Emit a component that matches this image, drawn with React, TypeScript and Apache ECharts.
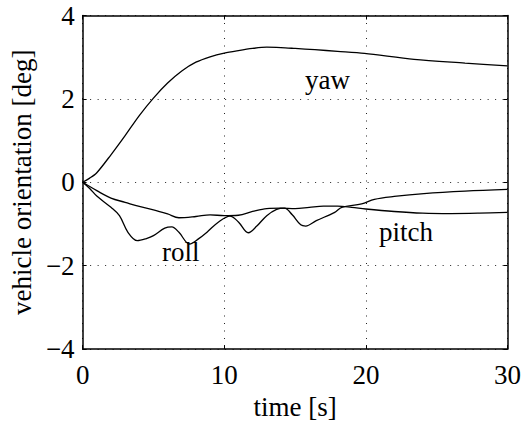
import React, { useEffect, useRef } from "react";
import * as echarts from "echarts";

const yawT = [0, 0.5, 1, 2, 3, 4, 5, 6, 7, 8, 9, 10, 11, 12, 13, 14, 15, 16.4, 18, 19.9, 23.4, 27, 30];
const yawV = [0, 0.1, 0.23, 0.66, 1.12, 1.6, 2.02, 2.38, 2.67, 2.88, 3.01, 3.1, 3.16, 3.21, 3.24, 3.23, 3.21, 3.18, 3.14, 3.09, 2.95, 2.86, 2.79];

const rollT = [0, 0.5, 1, 2, 2.6, 3.2, 3.86, 4.5, 5, 5.8, 6.3, 6.8, 7.55, 8.2, 8.8, 9.6, 10.4, 11, 11.7, 12.3, 13, 13.7, 14.25, 14.8, 15.4, 15.75, 16.5, 17.8, 18.3, 19.7, 20.6, 22, 24.1, 27, 30];
const rollV = [0, -0.15, -0.33, -0.6, -0.8, -1.2, -1.4, -1.35, -1.28, -1.1, -1.07, -1.2, -1.48, -1.35, -1.19, -0.95, -0.81, -0.95, -1.21, -1.05, -0.8, -0.65, -0.62, -0.78, -1.02, -1.05, -0.92, -0.72, -0.6, -0.52, -0.41, -0.34, -0.27, -0.21, -0.17];

const pitchT = [0, 1, 2, 3, 4, 5, 6, 6.8, 8, 9, 10, 11, 12, 13, 14, 15, 16, 17, 18, 19, 20, 22, 24, 26, 28, 30];
const pitchV = [0, -0.2, -0.38, -0.48, -0.58, -0.66, -0.76, -0.85, -0.82, -0.78, -0.8, -0.79, -0.7, -0.63, -0.62, -0.63, -0.6, -0.57, -0.57, -0.6, -0.64, -0.7, -0.74, -0.75, -0.74, -0.72];

const xTicks = [0, 10, 20, 30];
const yTicks = [-4, -2, 0, 2, 4];

const FONT = '"Liberation Serif", "Times New Roman", serif';
const FS = 27;

function pairs(t: number[], v: number[]) {
  return t.map((x, i) => [x, v[i]]);
}

export default function App() {
  const ref = useRef<HTMLDivElement>(null);
  useEffect(() => {
    document.body.style.margin = "0";
    const chart = echarts.init(ref.current!, null, { renderer: "svg" });
    const fmt = (v: number) => (v < 0 ? "\u2212" + Math.abs(v) : String(v));
    const lineS = { color: "#000", width: 1.3 };
    const base = {
      type: "line" as const,
      showSymbol: false,
      smooth: 0.35,
      lineStyle: lineS,
      animation: false,
    };
    const boxLine = { onZero: false, lineStyle: { color: "#000", width: 1.5 } };
    const tick = { inside: true, length: 4, lineStyle: { color: "#000" } };
    const grid = { show: true, lineStyle: { color: "#222", type: [1, 6.5], width: 1 } };
    chart.setOption({
      animation: false,
      grid: { left: 76, right: 15, top: 15.5, bottom: 68.5 },
      xAxis: [
        {
          type: "value",
          min: xTicks[0],
          max: xTicks[xTicks.length - 1],
          interval: 10,
          name: "time [s]",
          nameLocation: "middle",
          nameGap: 40,
          nameTextStyle: { fontFamily: FONT, fontSize: FS, color: "#000" },
          axisLine: boxLine,
          axisTick: tick,
          axisLabel: { fontFamily: FONT, fontSize: FS, color: "#000", margin: 12, formatter: fmt },
          splitLine: grid,
        },
        {
          type: "value",
          position: "top",
          min: 0,
          max: 30,
          interval: 10,
          axisLine: boxLine,
          axisTick: tick,
          axisLabel: { show: false },
          splitLine: { show: false },
        },
      ],
      yAxis: [
        {
          type: "value",
          min: yTicks[0],
          max: yTicks[yTicks.length - 1],
          interval: 2,
          name: "vehicle orientation [deg]",
          nameLocation: "middle",
          nameGap: 44,
          nameTextStyle: { fontFamily: FONT, fontSize: FS, color: "#000" },
          axisLine: boxLine,
          axisTick: tick,
          axisLabel: { fontFamily: FONT, fontSize: FS, color: "#000", margin: 8, formatter: fmt },
          splitLine: grid,
        },
        {
          type: "value",
          position: "right",
          min: -4,
          max: 4,
          interval: 2,
          axisLine: { show: true, ...boxLine },
          axisTick: { show: true, ...tick },
          axisLabel: { show: false },
          splitLine: { show: false },
        },
      ],
      series: [
        { ...base, smooth: 0.3, name: "yaw", data: pairs(yawT, yawV) },
        { ...base, name: "roll", data: pairs(rollT, rollV) },
        { ...base, name: "pitch", data: pairs(pitchT, pitchV) },
      ],
      graphic: [
        { type: "text", left: 305, top: 66, style: { text: "yaw", font: `${FS}px ${FONT}`, fill: "#000" } },
        { type: "text", left: 162, top: 238, style: { text: "roll", font: `${FS}px ${FONT}`, fill: "#000" } },
        { type: "text", left: 379, top: 218, style: { text: "pitch", font: `${FS}px ${FONT}`, fill: "#000" } },
      ],
    });
    return () => chart.dispose();
  }, []);
  return <div ref={ref} style={{ position: "absolute", left: 0, top: 0, width: 524, height: 425 }} />;
}
